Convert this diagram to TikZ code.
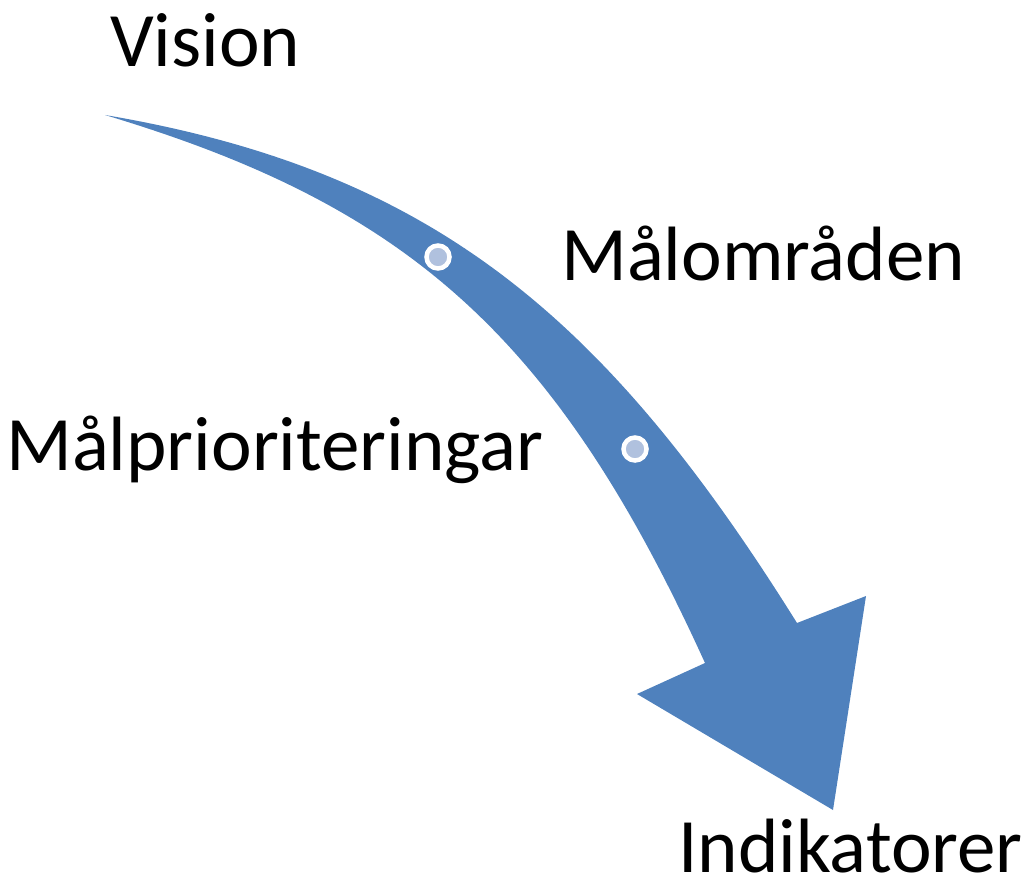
\documentclass[tikz,border=0pt]{standalone}
\usepackage{fontspec}
\setmainfont{Carlito}
\usepackage{tikz}

\definecolor{arrowblue}{HTML}{4F81BD}
\definecolor{dotblue}{HTML}{B0C1DE}

\tikzset{
    stage/.style={anchor=base west, inner sep=0pt, font=\fontsize{77}{92}\selectfont},
    dot/.style={circle, fill=dotblue, draw=white, line width=4.5pt, minimum size=23pt, inner sep=0pt}
}

\begin{document}
\begin{tikzpicture}[x=1pt, y=-1pt]
        \useasboundingbox (0,0) rectangle (1027,877);
        % the bent arrow
        \fill[arrowblue] (105,115) .. controls (435,171) and (607,319) .. (797,623)
            -- (866,596) -- (833,810) -- (637,694) -- (705,663)
            .. controls (555,333) and (405,205) .. (105,115) -- cycle;
        \node[dot] (dot1) at (438,257) {};
        \node[dot] (dot2) at (635,449) {};
        % labels
        \node[stage] (vision) at (110,67) {Vision};
        \node[stage] (omraden) at (561,280) {Målområden};
        \node[stage] (prio) at (6,470) {Målprioriteringar};
        \node[stage] (indik) at (678,872) {Indikatorer};
\end{tikzpicture}
\end{document}
